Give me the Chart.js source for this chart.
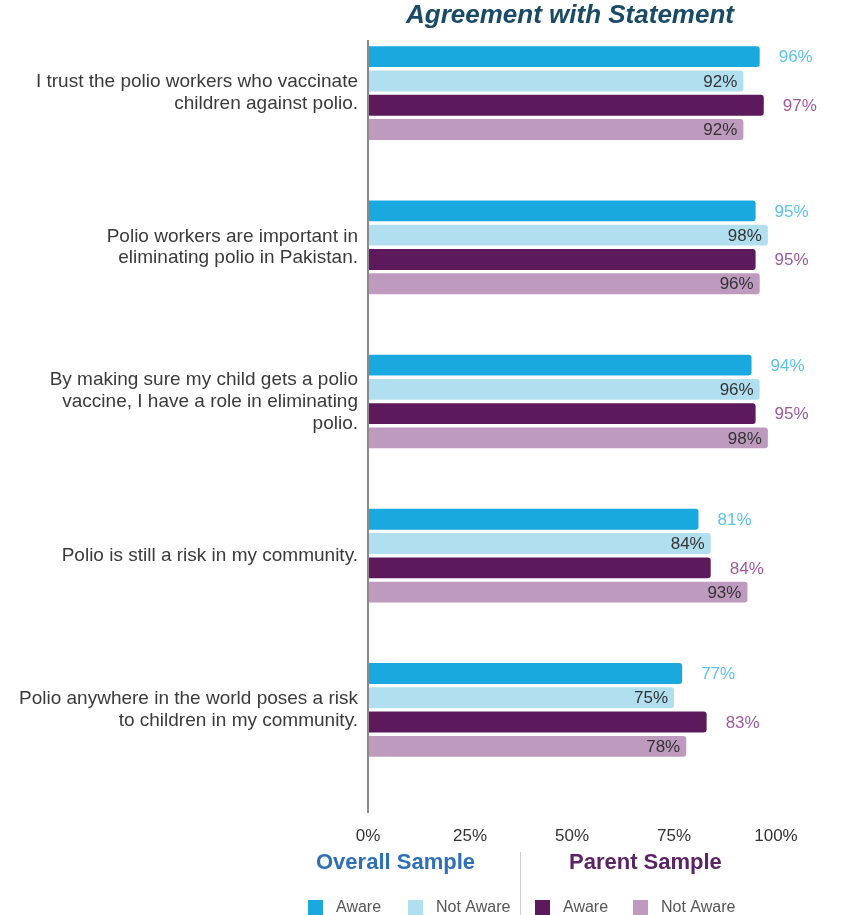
<!DOCTYPE html>
<html>
<head>
<meta charset="utf-8">
<title>Agreement with Statement</title>
<script src="https://cdn.jsdelivr.net/npm/chart.js@4.4.1/dist/chart.umd.min.js"></script>
<style>
  html, body { margin: 0; padding: 0; background: #fff; }
  #wrap { width: 842px; height: 915px; }
</style>
</head>
<body>
<div id="wrap"><canvas id="agreeChart" width="842" height="915"></canvas></div>
<script>
// --- Données ---
const categories = [
  ["I trust the polio workers who vaccinate", "children against polio."],
  ["Polio workers are important in", "eliminating polio in Pakistan."],
  ["By making sure my child gets a polio", "vaccine, I have a role in eliminating", "polio."],
  "Polio is still a risk in my community.",
  ["Polio anywhere in the world poses a risk", "to children in my community."]
];
const overallAware    = [96, 95, 94, 81, 77];
const overallNotAware = [92, 98, 96, 84, 75];
const parentAware     = [97, 95, 95, 84, 83];
const parentNotAware  = [92, 96, 98, 93, 78];
const xTicks = [0, 25, 50, 75, 100];
const chartTitle = "Agreement with Statement";
const groupNames = ["Overall Sample", "Parent Sample"];

const FONT = "'Liberation Sans', Arial, sans-serif";

// --- Titre + ligne de l'axe vertical (dépasse un peu la zone du graphe) ---
const frame = {
  id: "frame",
  afterDraw(chart) {
    const { ctx, chartArea } = chart;
    ctx.save();
    ctx.strokeStyle = "#8a8a8a";
    ctx.lineWidth = 2;
    ctx.beginPath();
    ctx.moveTo(chartArea.left, 40);
    ctx.lineTo(chartArea.left, 813);
    ctx.stroke();

    ctx.font = "italic bold 26px " + FONT;
    ctx.fillStyle = "#194a66";
    ctx.textAlign = "center";
    ctx.textBaseline = "middle";
    ctx.fillText(chartTitle, 570, 16);
    ctx.restore();
  }
};

// --- Étiquettes de valeur : dehors pour "Aware", dedans pour "Not Aware" ---
const valueLabels = {
  id: "valueLabels",
  afterDatasetsDraw(chart) {
    const { ctx } = chart;
    ctx.save();
    ctx.font = "17px " + FONT;
    ctx.textBaseline = "middle";
    chart.data.datasets.forEach((ds, i) => {
      const meta = chart.getDatasetMeta(i);
      meta.data.forEach((bar, j) => {
        const txt = ds.data[j] + "%";
        if (ds.outside) {
          ctx.fillStyle = ds.labelColor;
          ctx.textAlign = "left";
          ctx.fillText(txt, bar.x + 19, bar.y + 1);
        } else {
          ctx.fillStyle = "#333";
          ctx.textAlign = "right";
          ctx.fillText(txt, bar.x - 6, bar.y + 1);
        }
      });
    });
    ctx.restore();
  }
};

// --- Légende groupée en bas (Overall / Parent) ---
const groupLegend = {
  id: "groupLegend",
  afterDraw(chart) {
    const { ctx } = chart;
    const ds = chart.data.datasets;
    ctx.save();

    ctx.font = "bold 22px " + FONT;
    ctx.textBaseline = "middle";
    ctx.textAlign = "left";
    ctx.fillStyle = "#2f6fb8";
    ctx.fillText(groupNames[0], 316, 863);
    ctx.fillStyle = "#5b2464";
    ctx.fillText(groupNames[1], 569, 863);

    ctx.strokeStyle = "#d0d0d0";
    ctx.lineWidth = 1;
    ctx.beginPath();
    ctx.moveTo(520.5, 852);
    ctx.lineTo(520.5, 915);
    ctx.stroke();

    const boxX = [308, 408, 535, 633];
    ctx.font = "16px " + FONT;
    ds.forEach((d, i) => {
      ctx.fillStyle = d.backgroundColor;
      ctx.fillRect(boxX[i], 900, 15, 15);
      ctx.fillStyle = "#555";
      ctx.fillText(d.label, boxX[i] + 28, 908);
    });
    ctx.restore();
  }
};

new Chart(document.getElementById("agreeChart"), {
  type: "bar",
  data: {
    labels: categories,
    datasets: [
      { label: "Aware", data: overallAware, backgroundColor: "#1aa9df", outside: true, labelColor: "#5cc3ec" },
      { label: "Not Aware", data: overallNotAware, backgroundColor: "#b2dfef", outside: false },
      { label: "Aware", data: parentAware, backgroundColor: "#5c1a5c", outside: true, labelColor: "#9c5a9c" },
      { label: "Not Aware", data: parentNotAware, backgroundColor: "#be9abe", outside: false }
    ]
  },
  options: {
    indexAxis: "y",
    responsive: false,
    devicePixelRatio: 1,
    animation: false,
    layout: { padding: { top: 16, right: 66, bottom: 0, left: 0 } },
    datasets: {
      bar: {
        categoryPercentage: 0.63,
        barPercentage: 0.86,
        borderRadius: 3,
        borderSkipped: "left"
      }
    },
    scales: {
      x: {
        min: 0,
        max: 100,
        afterBuildTicks(scale) {
          scale.ticks = xTicks.map(v => ({ value: v }));
        },
        afterFit(scale) { scale.height = 128; },
        grid: { display: false },
        border: { display: false },
        ticks: {
          padding: 31,
          color: "#333",
          font: { family: FONT, size: 17 },
          callback: v => v + "%"
        }
      },
      y: {
        afterFit(scale) {
          scale.width = 368;
          // les libellés sur plusieurs lignes ne doivent pas rogner le haut
          scale.paddingTop = 0;
          scale.paddingBottom = 0;
        },
        grid: { display: false },
        border: { display: false },
        ticks: {
          padding: 2,
          color: "#3a3a3a",
          font: { family: FONT, size: 19, lineHeight: 1.15 }
        }
      }
    },
    plugins: {
      legend: { display: false },
      tooltip: { enabled: false }
    }
  },
  plugins: [frame, valueLabels, groupLegend]
});
</script>
</body>
</html>
